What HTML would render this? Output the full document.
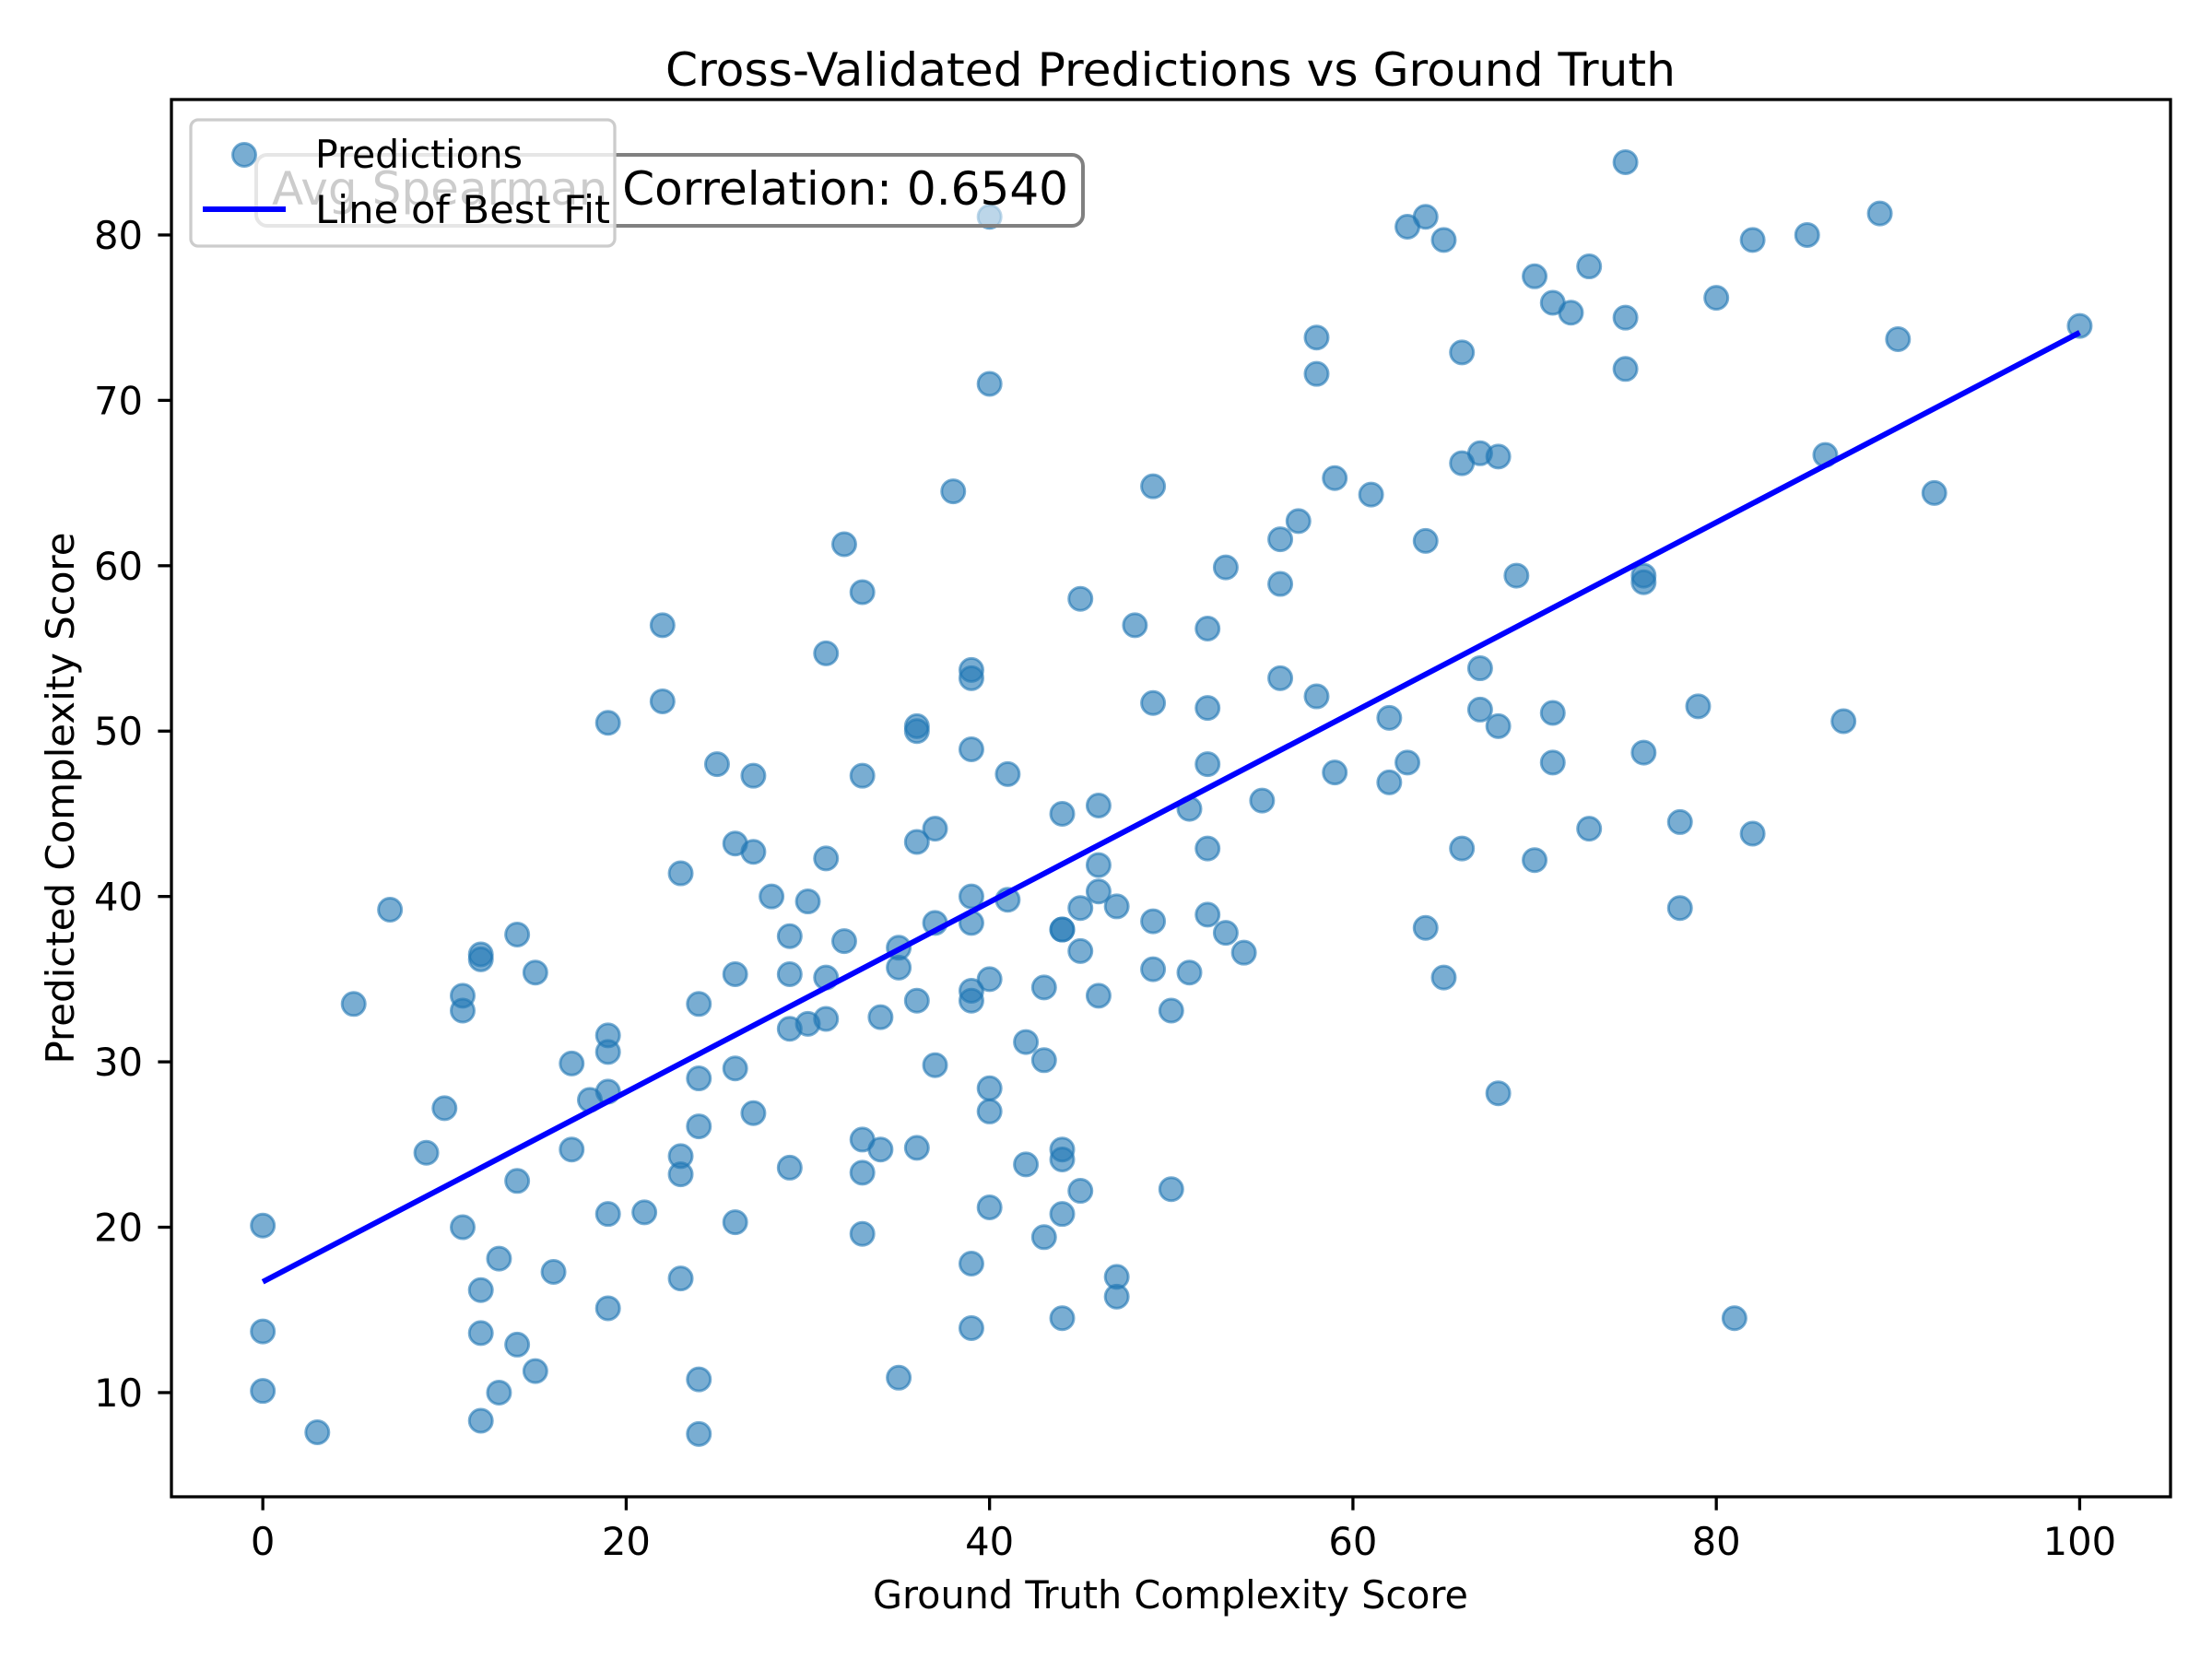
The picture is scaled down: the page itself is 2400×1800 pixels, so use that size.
<!DOCTYPE html>
<html><head><meta charset="utf-8"><style>
html,body{margin:0;padding:0;background:#fff;}
svg{display:block;font-family:"DejaVu Sans","Liberation Sans",sans-serif;}
</style></head>
<body>
<svg id="chart" width="2400" height="1800" viewBox="0 0 2400 1800" xmlns="http://www.w3.org/2000/svg">
<rect x="0" y="0" width="2400" height="1800" fill="#fff"/>
<text x="1270" y="93" font-size="50" text-anchor="middle" textLength="1096" lengthAdjust="spacingAndGlyphs">Cross-Validated Predictions vs Ground Truth</text>
<g id="plot"></g>
<g id="xticks"></g>
<g id="yticks"></g>
<rect x="186" y="108" width="2169" height="1516" fill="none" stroke="#000" stroke-width="3.3"/>
<text x="1270" y="1745" font-size="41.7" text-anchor="middle" textLength="646" lengthAdjust="spacingAndGlyphs">Ground Truth Complexity Score</text>
<text transform="translate(80,866) rotate(-90)" font-size="41.7" text-anchor="middle" textLength="577" lengthAdjust="spacingAndGlyphs">Predicted Complexity Score</text>
<g>
<rect x="278" y="168" width="897" height="77" rx="12" fill="#fff" fill-opacity="0.5" stroke="#808080" stroke-width="4"/>
<text x="295" y="222" font-size="50" textLength="864" lengthAdjust="spacingAndGlyphs">Avg Spearman Correlation: 0.6540</text>
</g>
<g>
<rect x="207" y="130" width="460" height="137" rx="8" fill="#fff" fill-opacity="0.8" stroke="#cccccc" stroke-width="3.3"/>
<circle cx="265" cy="168" r="12.5" fill="#1f77b4" fill-opacity="0.6" stroke="#1f77b4" stroke-opacity="0.6" stroke-width="3"/>
<text x="342" y="182" font-size="41.7" textLength="225" lengthAdjust="spacingAndGlyphs">Predictions</text>
<line x1="220" y1="227" x2="310" y2="227" stroke="#0000ff" stroke-width="6"/>
<text x="342" y="242" font-size="41.7" textLength="320" lengthAdjust="spacingAndGlyphs">Line of Best Fit</text>
</g>
</svg>
<script>
const xs = [0,0,0,3,5,7,9,10,11,11,11,12,12,12,12,12,13,13,14,14,14,15,15,16,17,17,18,19,19,19,19,19,19,21,22,22,23,23,23,23,24,24,24,24,24,25,26,26,26,26,27,27,27,28,29,29,29,29,30,30,31,31,31,31,32,32,33,33,33,33,33,34,34,35,35,35,36,36,36,36,36,37,37,37,38,39,39,39,39,39,39,39,39,39,40,40,40,40,40,40,41,41,42,42,43,43,43,44,44,44,44,44,44,44,45,45,45,45,46,46,46,46,47,47,47,48,49,49,49,49,50,50,51,51,52,52,52,52,52,53,53,54,55,56,56,56,57,58,58,58,59,59,61,62,62,63,63,64,64,64,65,65,66,66,66,67,67,67,68,68,68,69,70,70,71,71,71,72,73,73,75,75,75,76,76,76,78,78,79,80,81,82,82,85,86,87,89,90,92,100];
const ys = [20.1,13.7,10.1,7.6,33.5,39.2,24.5,27.2,34,33.1,20,36.5,36.2,16.2,13.6,8.3,18.1,10,37.7,22.8,12.9,35.4,11.3,17.3,29.9,24.7,27.7,50.5,31.6,30.6,28.2,20.8,15.1,20.9,56.4,51.8,41.4,24.3,23.2,16.9,33.5,29,26.1,10.8,7.5,48,43.2,35.3,29.6,20.3,47.3,42.7,26.9,40,37.6,35.3,32,23.6,39.7,32.3,54.7,42.3,35.1,32.6,61.3,37.3,58.4,47.3,25.3,23.3,19.6,32.7,24.7,36.9,35.7,10.9,50.3,50,43.3,33.7,24.8,44.1,38.4,29.8,64.5,53.7,53.2,48.9,40,38.4,34.3,33.7,17.8,13.9,81.1,71,35,28.4,27,21.2,47.4,39.8,31.2,23.8,34.5,30.1,19.4,45,38,38,24.7,24.1,20.8,14.5,58,39.3,36.7,22.2,45.5,41.9,40.3,34,39.4,17,15.8,56.4,64.8,51.7,38.5,35.6,33.1,22.3,45.3,35.4,56.2,51.4,48,42.9,38.9,59.9,37.8,36.6,45.8,61.6,58.9,53.2,62.7,73.8,71.6,52.1,65.3,47.5,64.3,50.8,46.9,80.5,48.1,81.1,61.5,38.1,79.7,35.1,72.9,66.2,42.9,66.8,53.8,51.3,66.6,50.3,28.1,59.4,77.5,42.2,75.9,51.1,48.1,75.3,78.1,44.1,84.4,75,71.9,59.4,59,48.7,44.5,39.3,51.5,76.2,14.5,79.7,43.8,80,66.7,50.6,81.3,73.7,64.4,74.5];
const fitX = [0, 100];
const fitY = [16.7, 74.1];
const xTicks = [0, 20, 40, 60, 80, 100];
const yTicks = [10, 20, 30, 40, 50, 60, 70, 80];

const NS = 'http://www.w3.org/2000/svg';
const X0 = 186, X1 = 2355, Y0 = 108, Y1 = 1624;
const xMin = -5.03, xMax = 105.0, yMin = 3.70, yMax = 88.19;
function sx(v){ return X0 + (v - xMin) / (xMax - xMin) * (X1 - X0); }
function sy(v){ return Y1 - (v - yMin) / (yMax - yMin) * (Y1 - Y0); }
function mk(tag, attrs){ const e = document.createElementNS(NS, tag); for (const k in attrs) e.setAttribute(k, attrs[k]); return e; }

const plot = document.getElementById('plot');
for (let i = 0; i < xs.length; i++) {
  const c = mk('circle', {cx: sx(xs[i]), cy: sy(ys[i]), r: 12.5, fill: '#1f77b4', 'fill-opacity': 0.6, stroke: '#1f77b4', 'stroke-opacity': 0.6, 'stroke-width': 3});
  
  
  plot.appendChild(c);
}
const fl = mk('line', {x1: sx(fitX[0]), y1: sy(fitY[0]), x2: sx(fitX[1]), y2: sy(fitY[1]), stroke: '#0000ff', 'stroke-width': 6});


plot.appendChild(fl);

const xg = document.getElementById('xticks');
xTicks.forEach(t => {
  const l = mk('line', {x1: sx(t), y1: Y1, x2: sx(t), y2: Y1 + 14.6, stroke: '#000', 'stroke-width': 3.3});
  
  
  xg.appendChild(l);
  const tx = mk('text', {x: sx(t), y: 1687, 'font-size': 41.7, 'text-anchor': 'middle'});
  tx.textContent = String(t);
  
  
  xg.appendChild(tx);
});
const yg = document.getElementById('yticks');
yTicks.forEach(t => {
  const l = mk('line', {x1: X0 - 14.6, y1: sy(t), x2: X0, y2: sy(t), stroke: '#000', 'stroke-width': 3.3});
  
  
  yg.appendChild(l);
  const tx = mk('text', {x: 155, y: sy(t) + 15, 'font-size': 41.7, 'text-anchor': 'end'});
  tx.textContent = String(t);
  
  
  yg.appendChild(tx);
});
</script>
</body></html>
